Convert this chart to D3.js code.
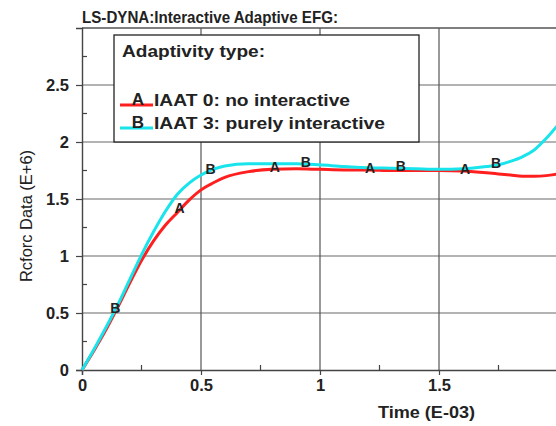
<!DOCTYPE html>
<html>
<head>
<meta charset="utf-8">
<script src="https://cdn.jsdelivr.net/npm/d3@7"></script>
<style>
body { margin: 0; background: #fff; }
text { font-family: Arial, "Liberation Sans", sans-serif; fill: #222; }
</style>
</head>
<body>
<div id="chart"></div>
<script>
// data (time in E-03, force in E+6)
const timeVals = [0, 0.05, 0.1, 0.15, 0.2, 0.25, 0.3, 0.35, 0.4, 0.45, 0.5, 0.55, 0.6, 0.7, 0.8, 0.9, 1.0, 1.1, 1.2, 1.3, 1.4, 1.5, 1.6, 1.7, 1.75, 1.8, 1.85, 1.9, 1.95, 2.0];
const iaat0 = [0, 0.17, 0.35, 0.55, 0.76, 0.96, 1.13, 1.27, 1.38, 1.49, 1.58, 1.64, 1.69, 1.74, 1.76, 1.765, 1.76, 1.755, 1.755, 1.75, 1.75, 1.75, 1.745, 1.73, 1.72, 1.71, 1.70, 1.70, 1.705, 1.72];
const iaat3 = [0, 0.18, 0.37, 0.57, 0.79, 1.01, 1.21, 1.39, 1.54, 1.64, 1.71, 1.76, 1.79, 1.81, 1.81, 1.81, 1.80, 1.785, 1.775, 1.77, 1.765, 1.76, 1.765, 1.785, 1.80, 1.83, 1.87, 1.93, 2.03, 2.15];
const markA = [0.41, 0.81, 1.21, 1.61];
const markB = [0.14, 0.54, 0.94, 1.34, 1.74];
const xTicks = [0, 0.5, 1, 1.5];
const xMinor = [0.25, 0.75, 1.25, 1.75];
const yTicks = [0, 0.5, 1, 1.5, 2, 2.5];
const yMinor = [0.25, 0.75, 1.25, 1.75, 2.25, 2.75];
const seriesNames = ["IAAT 0: no interactive", "IAAT 3: purely interactive"];
const seriesLetters = ["A", "B"];
const seriesColors = ["#ff1f1f", "#18e4ec"];

const W = 556, H = 426;
const margin = {left: 82, top: 28};
const plotW = 476, plotH = 342;

const svg = d3.select("#chart").append("svg")
    .attr("width", W)
    .attr("height", H);

const x = d3.scaleLinear().domain([0, 2]).range([margin.left, margin.left + plotW]);
const y = d3.scaleLinear().domain([0, 3]).range([margin.top + plotH, margin.top]);

//grid
const grid = svg.append("g");
grid.selectAll(".hg").data(yTicks.filter(d => d > 0)).join("line")
    .attr("x1", x(0)).attr("x2", x(2))
    .attr("y1", d => y(d)).attr("y2", d => y(d))
    .attr("stroke", "#9a9a9a").attr("stroke-width", 1.3);
grid.selectAll(".vg").data(xTicks.filter(d => d > 0)).join("line")
    .attr("x1", d => x(d)).attr("x2", d => x(d))
    .attr("y1", y(0)).attr("y2", y(3))
    .attr("stroke", "#555").attr("stroke-width", 1.2);
grid.append("line")
    .attr("x1", x(0)).attr("x2", x(2))
    .attr("y1", y(3)).attr("y2", y(3))
    .attr("stroke", "#555").attr("stroke-width", 1.3);

//axes
const yAxis = svg.append("g")
    .attr("transform", `translate(${x(0)},0)`)
    .call(d3.axisLeft(y).tickValues(yTicks).tickSize(6).tickPadding(7).tickFormat(d3.format("~g")));
const xAxis = svg.append("g")
    .attr("transform", `translate(0,${y(0)})`)
    .call(d3.axisBottom(x).tickValues(xTicks).tickSize(5).tickPadding(4).tickFormat(d3.format("~g")));
[xAxis, yAxis].forEach(a => {
    a.select(".domain").attr("stroke", "#444").attr("stroke-width", 1.4);
    a.selectAll(".tick line").attr("stroke", "#444").attr("stroke-width", 1.2);
    a.selectAll("text")
        .style("font-family", "Arial, 'Liberation Sans', sans-serif")
        .style("font-size", "16.5px").style("font-weight", "bold").attr("fill", "#222");
});

//minor ticks inside
svg.append("g").selectAll("line").data(yMinor).join("line")
    .attr("x1", x(0)).attr("x2", x(0) + 5)
    .attr("y1", d => y(d)).attr("y2", d => y(d))
    .attr("stroke", "#444").attr("stroke-width", 1.2);
svg.append("g").selectAll("line").data(xMinor).join("line")
    .attr("x1", d => x(d)).attr("x2", d => x(d))
    .attr("y1", y(0)).attr("y2", y(0) - 5)
    .attr("stroke", "#444").attr("stroke-width", 1.2);

//curves
const line = d3.line()
    .x((d, i) => x(timeVals[i]))
    .y(d => y(d))
    .curve(d3.curveMonotoneX);
[iaat0, iaat3].forEach((s, k) => {
    svg.append("path")
        .attr("d", line(s))
        .attr("fill", "none")
        .attr("stroke", seriesColors[k])
        .attr("stroke-width", 3);
});

//markers letters
const interp = (s, t) => {
    const i = d3.bisectRight(timeVals, t) - 1;
    const f = (t - timeVals[i]) / (timeVals[i + 1] - timeVals[i]);
    return s[i] + f * (s[i + 1] - s[i]);
};
[[markA, iaat0], [markB, iaat3]].forEach(([marks, s], k) => {
    svg.append("g").selectAll("text").data(marks).join("text")
        .attr("x", d => x(d))
        .attr("y", d => y(interp(s, d)) + 3)
        .attr("text-anchor", "middle")
        .style("font-size", "14px")
        .style("font-weight", "bold")
        .attr("fill", "#333")
        .text(seriesLetters[k]);
});

//legend
const leg = svg.append("g");
leg.append("rect")
    .attr("x", 114).attr("y", 35)
    .attr("width", 305).attr("height", 107)
    .attr("fill", "#fff").attr("stroke", "#222").attr("stroke-width", 1.3);
leg.append("text")
    .attr("x", 122).attr("y", 57)
    .attr("textLength", 143).attr("lengthAdjust", "spacingAndGlyphs")
    .style("font-size", "17px").style("font-weight", "bold")
    .text("Adaptivity type:");
const legY = [105, 128];
const legLen = [196, 231];
seriesNames.forEach((name, k) => {
    leg.append("line")
        .attr("x1", 120).attr("x2", 153)
        .attr("y1", legY[k]).attr("y2", legY[k])
        .attr("stroke", seriesColors[k]).attr("stroke-width", 3);
    leg.append("text")
        .attr("x", 138).attr("y", legY[k])
        .attr("text-anchor", "middle")
        .style("font-size", "17px").style("font-weight", "bold")
        .text(seriesLetters[k]);
    leg.append("text")
        .attr("x", 154).attr("y", legY[k] + 1)
        .attr("textLength", legLen[k]).attr("lengthAdjust", "spacingAndGlyphs")
        .style("font-size", "17px").style("font-weight", "bold")
        .text(name);
});

//titles
svg.append("text")
    .attr("x", 82).attr("y", 23)
    .attr("textLength", 256).attr("lengthAdjust", "spacingAndGlyphs")
    .style("font-size", "16.5px").style("font-weight", "bold")
    .text("LS-DYNA:Interactive Adaptive EFG:");
svg.append("text")
    .attr("transform", "rotate(-90)")
    .attr("x", -216).attr("y", 32)
    .attr("text-anchor", "middle")
    .attr("textLength", 132).attr("lengthAdjust", "spacingAndGlyphs")
    .style("font-size", "17px")
    .text("Rcforc Data (E+6)");
svg.append("text")
    .attr("x", 378).attr("y", 418)
    .attr("textLength", 97).attr("lengthAdjust", "spacingAndGlyphs")
    .style("font-size", "17px").style("font-weight", "bold")
    .text("Time (E-03)");
</script>
</body>
</html>
